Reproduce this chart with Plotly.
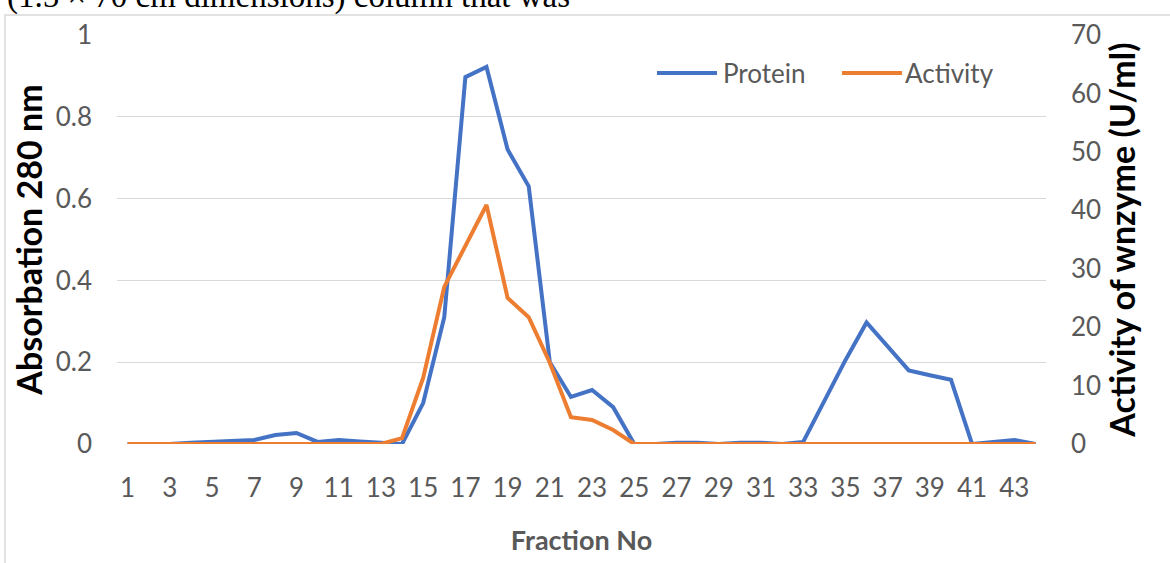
import plotly.graph_objects as go

fractions = list(range(1, 45))
protein = [0, 0, 0, 0.003, 0.005, 0.008, 0.01, 0.022, 0.027, 0.005, 0.01, 0.006, 0.002, 0,
           0.10, 0.31, 0.897, 0.922, 0.72, 0.63, 0.20, 0.115, 0.132, 0.09, 0,
           0, 0.003, 0.003, 0, 0.003, 0.003, 0, 0.005,
           0.107, 0.205, 0.297, 0.237, 0.18, 0.168, 0.157, 0, 0.005, 0.01, 0]
activity = [0] * 13 + [1, 11.3, 26.9, 33.8, 40.9, 25, 21.7, 13.9, 4.6, 4.1, 2.4] + [0] * 20
x_ticks = list(range(1, 44, 2))
left_ticks = [0, 0.2, 0.4, 0.6, 0.8, 1]
left_tick_text = ["0", "0.2", "0.4", "0.6", "0.8", "1"]
right_ticks = [0, 10, 20, 30, 40, 50, 60, 70]

BLUE = "#4472C4"
ORANGE = "#ED7D31"
GRAY = "#595959"
GRID = "#D9D9D9"
FONT = "Lato, sans-serif"

xcat = [str(f) for f in fractions]

fig = go.Figure()
fig.add_trace(go.Scatter(x=xcat, y=protein, mode="lines", name="Protein",
                         line=dict(color=BLUE, width=4), yaxis="y"))
fig.add_trace(go.Scatter(x=xcat, y=activity, mode="lines", name="Activity",
                         line=dict(color=ORANGE, width=4), yaxis="y2"))

W, H = 1170, 563
L, R, T, B = 117, 124, 35, 119
pw = W - L - R
ph = H - T - B

def px(x):
    return (x - L) / pw

def py(y):
    return (H - B - y) / ph

fig.update_layout(
    width=W, height=H,
    margin=dict(l=L, r=R, t=T, b=B, autoexpand=False),
    paper_bgcolor="white", plot_bgcolor="white",
    showlegend=False,
    font=dict(family=FONT, color=GRAY, size=26),
    xaxis=dict(
        type="category", tickmode="array",
        tickvals=[str(v) for v in x_ticks], ticktext=[str(v) for v in x_ticks],
        showgrid=False, showline=False, zeroline=False, ticks="",
        tickfont=dict(family=FONT, size=26, color=GRAY),
        ticklabelstandoff=26,
        title=dict(text="<b>Fraction No</b>", font=dict(family=FONT, size=27, color=GRAY), standoff=29),
        range=[-0.5, 43.5],
    ),
    yaxis=dict(
        range=[0, 1], tickmode="array", tickvals=left_ticks, ticktext=left_tick_text,
        showgrid=True, gridcolor=GRID, gridwidth=1, zeroline=False, showline=False, ticks="",
        tickfont=dict(family=FONT, size=26, color=GRAY),
        ticklabelstandoff=24,
        title=dict(text="<b>Absorbation 280 nm</b>", font=dict(family=FONT, size=34, color="black"), standoff=2),
    ),
    yaxis2=dict(
        range=[0, 70], overlaying="y", side="right", tickmode="array", tickvals=right_ticks,
        showgrid=False, zeroline=False, showline=False, ticks="",
        tickfont=dict(family=FONT, size=26, color=GRAY),
        ticklabelstandoff=24,
        title=dict(text="<b>Activity of wnzyme (U/ml)</b>", font=dict(family=FONT, size=34, color="black"), standoff=6),
    ),
    shapes=[
        dict(type="rect", xref="paper", yref="paper", x0=px(5), x1=px(1200), y0=py(600), y1=py(15),
             line=dict(color="#D9D9D9", width=1.5), fillcolor="rgba(0,0,0,0)", layer="below"),
        dict(type="line", xref="paper", yref="paper", x0=px(657), x1=px(717), y0=py(73), y1=py(73),
             line=dict(color=BLUE, width=4)),
        dict(type="line", xref="paper", yref="paper", x0=px(842), x1=px(902), y0=py(73), y1=py(73),
             line=dict(color=ORANGE, width=4)),
    ],
    annotations=[
        dict(text="Protein", xref="paper", yref="paper", x=px(721), y=py(73), xanchor="left", yanchor="middle",
             showarrow=False, font=dict(family=FONT, size=26, color=GRAY)),
        dict(text="Activity", xref="paper", yref="paper", x=px(903), y=py(73), xanchor="left", yanchor="middle",
             showarrow=False, font=dict(family=FONT, size=26, color=GRAY)),
        dict(text="(1.5 × 70 cm dimensions) column that was", xref="paper", yref="paper",
             x=px(5), y=py(17), xanchor="left", yanchor="bottom", showarrow=False,
             font=dict(family="Liberation Serif, Times New Roman, serif", size=33, color="black")),
    ],
)

fig.write_html("out.html", config={"displayModeBar": False},
               post_script="document.body.style.margin='0';")
